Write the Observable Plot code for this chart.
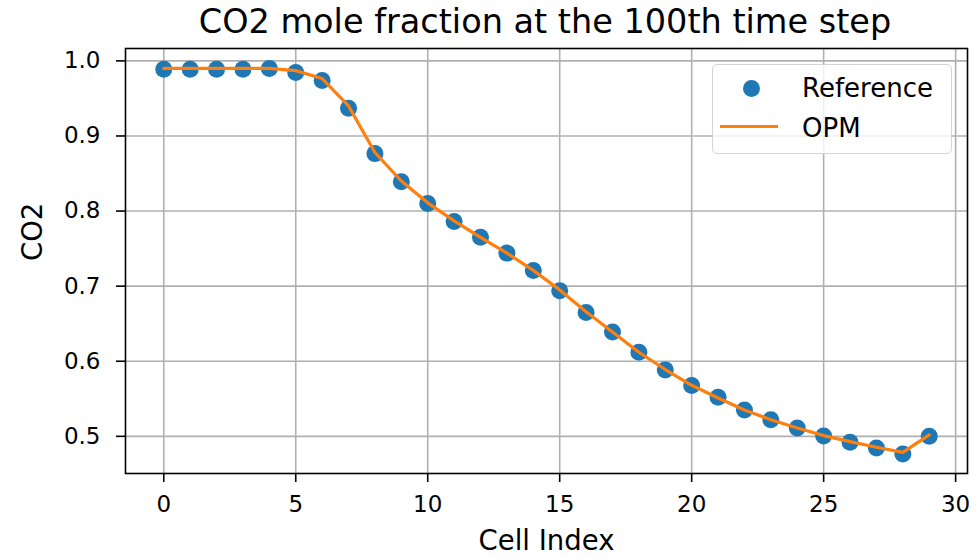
<!DOCTYPE html>
<html>
<head>
<meta charset="utf-8">
<script src="https://cdn.jsdelivr.net/npm/d3@7"></script>
<script src="https://cdn.jsdelivr.net/npm/@observablehq/plot@0.6"></script>
<style>
  body { margin: 0; background: #fff; font-family: "DejaVu Sans", sans-serif; }
  #wrap { position: relative; width: 978px; height: 559px; overflow: hidden; }
  #title { position: absolute; left: 0; top: 5px; width: 1090px; text-align: center;
           font-size: 33.5px; line-height: 1; color: #000; white-space: nowrap; }
  #chart { position: absolute; left: 0; top: 40px; }
  #legend { position: absolute; left: 712px; top: 64px; width: 238px; height: 88px;
            border: 1.5px solid #d4d4d4; border-radius: 5px; background: rgba(255,255,255,0.8); }
  .lg-dot { position: absolute; left: 29.5px; top: 14.5px; width: 17px; height: 17px; border-radius: 50%; background: #1f77b4; }
  .lg-line { position: absolute; left: 7px; top: 60px; width: 58px; height: 3px; background: #ff7f0e; }
  .lg-text { position: absolute; left: 89px; font-size: 26px; line-height: 1; color: #000; white-space: nowrap; }
</style>
</head>
<body>
<div id="wrap">
  <div id="title">CO2 mole fraction at the 100th time step</div>
  <div id="chart"></div>
  <div id="legend">
    <div class="lg-dot"></div>
    <div class="lg-text" style="top:10px">Reference</div>
    <div class="lg-line"></div>
    <div class="lg-text" style="top:50px">OPM</div>
  </div>
</div>
<script>
const cellIndex = [0,1,2,3,4,5,6,7,8,9,10,11,12,13,14,15,16,17,18,19,20,21,22,23,24,25,26,27,28,29];
const referenceCO2 = [0.989,0.989,0.989,0.989,0.990,0.9845,0.974,0.937,0.8765,0.839,0.810,0.786,0.765,0.744,0.721,0.694,0.665,0.639,0.612,0.5885,0.5676,0.552,0.535,0.522,0.511,0.5005,0.492,0.4845,0.4765,0.500];
const opmCO2 = [0.990,0.990,0.990,0.990,0.990,0.987,0.9765,0.940,0.878,0.840,0.811,0.787,0.765,0.744,0.721,0.695,0.666,0.639,0.612,0.589,0.568,0.551,0.535,0.522,0.511,0.501,0.493,0.4855,0.4787,0.502];
const xTicks = [0,5,10,15,20,25,30];
const yTicks = [0.5,0.6,0.7,0.8,0.9,1.0];

const data = cellIndex.map((i, k) => ({i, ref: referenceCO2[k], opm: opmCO2[k]}));

const chart = Plot.plot({
  width: 978,
  height: 519,
  marginTop: 8,
  marginBottom: 86,
  marginLeft: 125,
  marginRight: 11,
  style: { fontFamily: "DejaVu Sans, sans-serif", fontSize: "23px", color: "#000", background: "#fff" },
  x: { domain: [-1.45, 30.45], label: null },
  y: { domain: [0.4505, 1.0165], label: null },
  marks: [
    Plot.gridX(xTicks, { stroke: "#b0b0b0", strokeOpacity: 1, strokeWidth: 1.6 }),
    Plot.gridY(yTicks, { stroke: "#b0b0b0", strokeOpacity: 1, strokeWidth: 1.6 }),
    Plot.dot(data, { x: "i", y: "ref", r: 8.5, fill: "#1f77b4", stroke: "none" }),
    Plot.line(data, { x: "i", y: "opm", stroke: "#ff7f0e", strokeWidth: 3.2 }),
    Plot.frame({ stroke: "#000", strokeWidth: 1.6 }),
    Plot.axisX(xTicks, { tickSize: 9, tickPadding: 13, tickFormat: d => String(d), label: null, strokeWidth: 1.6, fontSize: 23 }),
    Plot.axisY(yTicks, { tickSize: 9, tickPadding: 16, tickFormat: d => d.toFixed(1), label: null, strokeWidth: 1.6, fontSize: 23 }),
    Plot.text(["Cell Index"], { frameAnchor: "bottom", dy: 76, fontSize: 27.5, fill: "#000" }),
    Plot.text(["CO2"], { frameAnchor: "left", rotate: -90, dx: -92, fontSize: 27.5, fill: "#000" })
  ]
});
document.getElementById("chart").appendChild(chart);
</script>
</body>
</html>
